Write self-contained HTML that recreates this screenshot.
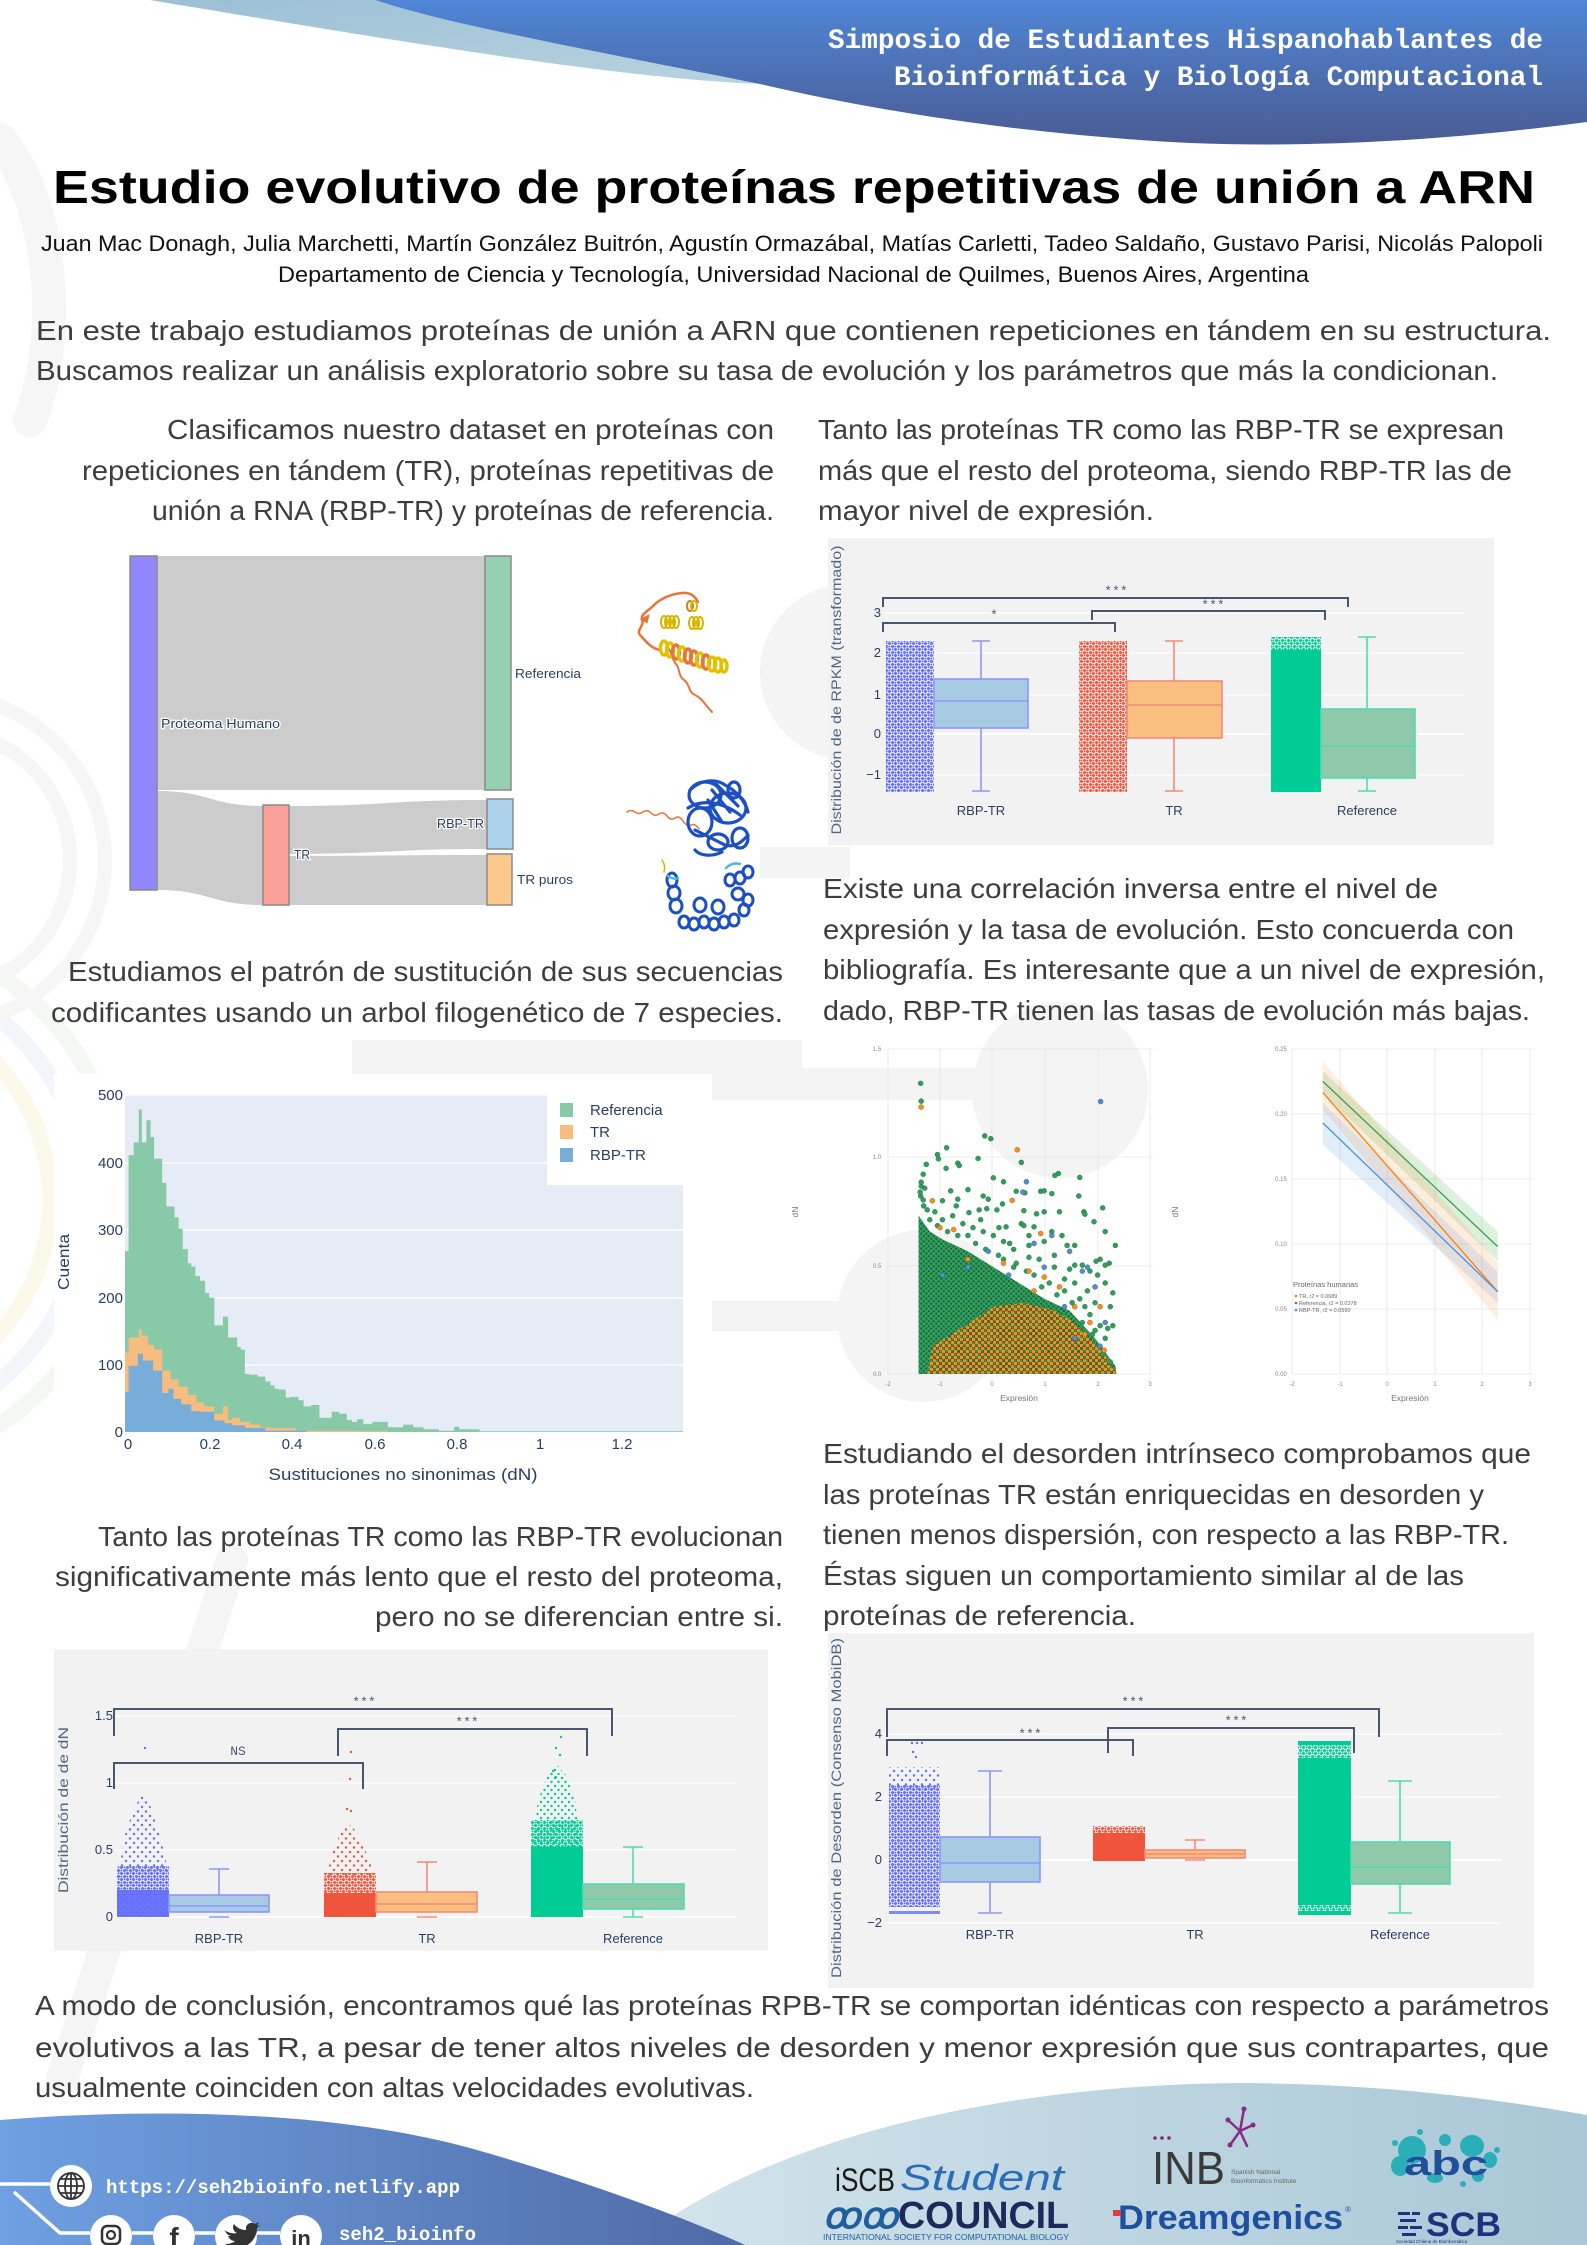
<!DOCTYPE html>
<html><head><meta charset="utf-8"><style>
html,body{margin:0;padding:0;background:#fff;}
svg{display:block;}
.b{font-family:"Liberation Sans",sans-serif;font-size:28px;fill:#3d3d3d;}
.p{font-family:"Liberation Sans",sans-serif;font-size:13px;fill:#2a3f5f;}
.pt{font-family:"Liberation Sans",sans-serif;font-size:14px;fill:#506784;}
.st{font-family:"Liberation Mono",monospace;font-size:13px;fill:#4a5670;}
.tk{font-family:"Liberation Sans",sans-serif;font-size:6px;fill:#888;}
</style></head><body>
<svg width="1587" height="2245" viewBox="0 0 1587 2245" xmlns="http://www.w3.org/2000/svg">
<defs>
<linearGradient id="hdr" x1="0" y1="0" x2="0" y2="1"><stop offset="0" stop-color="#4f86d6"/><stop offset="1" stop-color="#4a5b93"/></linearGradient>
<linearGradient id="hlb" x1="0" y1="0" x2="1" y2="1"><stop offset="0" stop-color="#9cbfd6"/><stop offset="1" stop-color="#b9d3df"/></linearGradient>
<linearGradient id="fb" x1="0" y1="0" x2="1" y2="0"><stop offset="0" stop-color="#6fa0e2"/><stop offset="1" stop-color="#4f6aa6"/></linearGradient>
<linearGradient id="fl" x1="0" y1="0" x2="1" y2="0"><stop offset="0" stop-color="#d3e4ec"/><stop offset="1" stop-color="#a9c7d6"/></linearGradient>
<pattern id="pB" width="6" height="6" patternUnits="userSpaceOnUse"><circle cx="1.5" cy="1.5" r="1.5" fill="#636efa"/><circle cx="4.5" cy="4.5" r="1.5" fill="#636efa"/><circle cx="4.6" cy="1.2" r="1" fill="#636efa"/><circle cx="1.3" cy="4.6" r="1" fill="#636efa"/></pattern>
<pattern id="pR" width="6" height="6" patternUnits="userSpaceOnUse"><circle cx="1.5" cy="1.5" r="1.5" fill="#ef553b"/><circle cx="4.5" cy="4.5" r="1.5" fill="#ef553b"/><circle cx="4.6" cy="1.2" r="1" fill="#ef553b"/><circle cx="1.3" cy="4.6" r="1" fill="#ef553b"/></pattern>
<pattern id="pG" width="6" height="6" patternUnits="userSpaceOnUse"><circle cx="1.5" cy="1.5" r="1.5" fill="#00cc96"/><circle cx="4.5" cy="4.5" r="1.5" fill="#00cc96"/><circle cx="4.6" cy="1.2" r="1" fill="#00cc96"/><circle cx="1.3" cy="4.6" r="1" fill="#00cc96"/></pattern>
<pattern id="pBs" width="8" height="9" patternUnits="userSpaceOnUse"><circle cx="2" cy="2.5" r="1.2" fill="#636efa"/><circle cx="6" cy="7" r="1.2" fill="#636efa"/></pattern>
<pattern id="pRs" width="8" height="9" patternUnits="userSpaceOnUse"><circle cx="2" cy="2.5" r="1.2" fill="#ef553b"/><circle cx="6" cy="7" r="1.2" fill="#ef553b"/></pattern>
<pattern id="pGs" width="7" height="8" patternUnits="userSpaceOnUse"><circle cx="2" cy="2" r="1.2" fill="#00cc96"/><circle cx="5.5" cy="6" r="1.2" fill="#00cc96"/></pattern>
<pattern id="gd" width="5" height="5" patternUnits="userSpaceOnUse"><circle cx="1.25" cy="1.25" r="2.1" fill="#2ea05c" stroke="#173d28" stroke-width="0.5"/><circle cx="3.75" cy="3.75" r="2.1" fill="#2ea05c" stroke="#173d28" stroke-width="0.5"/></pattern>
<pattern id="od" width="6" height="6" patternUnits="userSpaceOnUse"><circle cx="1.5" cy="1.5" r="2.2" fill="#f5901e" stroke="#4a2f0c" stroke-width="0.5"/><circle cx="4.5" cy="4.5" r="2" fill="#f5901e" stroke="#4a2f0c" stroke-width="0.5"/></pattern>
</defs>

<rect width="1587" height="2245" fill="#fff"/>

<!-- faint background decorations -->
<g fill="#f4f4f4">
<circle cx="848" cy="672" r="88"/>
<rect x="760" y="847" width="90" height="31"/>
<circle cx="1060" cy="1090" r="88"/>
<rect x="700" y="1068" width="300" height="32"/>
<rect x="352" y="1040" width="450" height="34"/>
<circle cx="923" cy="1316" r="86"/>
<rect x="700" y="1301" width="150" height="30"/>
</g>
<g fill="none" stroke-linecap="round">
<path d="M232,1560 L62,2080" stroke="#f5f5f5" stroke-width="32"/>
<path d="M0,140 C50,200 65,330 30,420" stroke="#f6f6f6" stroke-width="34"/>
<circle cx="-150" cy="1200" r="200" stroke="#fcf8ea" stroke-width="16"/>
<circle cx="-150" cy="1200" r="235" stroke="#f2f6fb" stroke-width="16"/>
<circle cx="-150" cy="1200" r="270" stroke="#f3f8f2" stroke-width="16"/>
<circle cx="-60" cy="860" r="130" stroke="#f6f6f6" stroke-width="14"/>
<circle cx="-60" cy="860" r="165" stroke="#f6f6f6" stroke-width="14"/>
</g>

<!-- header swoosh -->
<path d="M150,0 L375,0 C450,25 600,52 760,84 C620,78 420,45 150,0 Z" fill="url(#hlb)"/>
<path d="M375,0 L1587,0 L1587,122 C1450,140 1320,148 1190,143 C1030,135 880,112 760,84 C600,52 450,25 375,0 Z" fill="url(#hdr)"/>
<g font-family="'Liberation Mono',monospace" font-weight="bold" font-size="28" fill="#fff" text-anchor="end">
<text x="1543" y="48" textLength="715" lengthAdjust="spacingAndGlyphs">Simposio de Estudiantes Hispanohablantes de</text>
<text x="1543" y="85" textLength="649" lengthAdjust="spacingAndGlyphs">Bioinformática y Biología Computacional</text>
</g>

<!-- title -->
<text x="53" y="203" font-family="'Liberation Sans',sans-serif" font-weight="bold" font-size="46" fill="#000" textLength="1482" lengthAdjust="spacingAndGlyphs">Estudio evolutivo de proteínas repetitivas de unión a ARN</text>
<g font-family="'Liberation Sans',sans-serif" font-size="22" fill="#111">
<text x="41" y="251" textLength="1502" lengthAdjust="spacingAndGlyphs">Juan Mac Donagh, Julia Marchetti, Martín González Buitrón, Agustín Ormazábal, Matías Carletti, Tadeo Saldaño, Gustavo Parisi, Nicolás Palopoli</text>
<text x="278" y="282" textLength="1031" lengthAdjust="spacingAndGlyphs">Departamento de Ciencia y Tecnología, Universidad Nacional de Quilmes, Buenos Aires, Argentina</text>
</g>

<!-- intro -->
<text class="b" x="36" y="340" textLength="1515" lengthAdjust="spacingAndGlyphs">En este trabajo estudiamos proteínas de unión a ARN que  contienen repeticiones en tándem en su estructura.</text>
<text class="b" x="36" y="380" textLength="1462" lengthAdjust="spacingAndGlyphs">Buscamos realizar un análisis exploratorio sobre su tasa de evolución y los parámetros que más la condicionan.</text>

<!-- left paragraphs -->
<g text-anchor="end">
<text class="b" x="774" y="439" textLength="607" lengthAdjust="spacingAndGlyphs">Clasificamos nuestro dataset en proteínas con</text>
<text class="b" x="774" y="480" textLength="692" lengthAdjust="spacingAndGlyphs">repeticiones en tándem (TR), proteínas repetitivas de</text>
<text class="b" x="774" y="520" textLength="622" lengthAdjust="spacingAndGlyphs">unión a RNA (RBP-TR) y proteínas de referencia.</text>
<text class="b" x="783" y="981" textLength="715" lengthAdjust="spacingAndGlyphs">Estudiamos el patrón de sustitución de sus secuencias</text>
<text class="b" x="783" y="1022" textLength="732" lengthAdjust="spacingAndGlyphs">codificantes usando un arbol filogenético de 7 especies.</text>
<text class="b" x="783" y="1546" textLength="685" lengthAdjust="spacingAndGlyphs">Tanto las proteínas TR como las RBP-TR evolucionan</text>
<text class="b" x="783" y="1586" textLength="728" lengthAdjust="spacingAndGlyphs">significativamente más lento que el resto del proteoma,</text>
<text class="b" x="783" y="1626" textLength="408" lengthAdjust="spacingAndGlyphs">pero no se diferencian entre si.</text>
</g>

<!-- right paragraphs -->
<text class="b" x="818" y="439" textLength="686" lengthAdjust="spacingAndGlyphs">Tanto las proteínas TR como las RBP-TR se expresan</text>
<text class="b" x="818" y="480" textLength="694" lengthAdjust="spacingAndGlyphs">más que el resto del proteoma, siendo RBP-TR las de</text>
<text class="b" x="818" y="520" textLength="336" lengthAdjust="spacingAndGlyphs">mayor nivel de expresión.</text>
<text class="b" x="823" y="898" textLength="615" lengthAdjust="spacingAndGlyphs">Existe una  correlación inversa entre el nivel de</text>
<text class="b" x="823" y="939" textLength="691" lengthAdjust="spacingAndGlyphs">expresión y la tasa de evolución. Esto concuerda con</text>
<text class="b" x="823" y="979" textLength="722" lengthAdjust="spacingAndGlyphs">bibliografía. Es interesante que a un nivel de expresión,</text>
<text class="b" x="823" y="1020" textLength="707" lengthAdjust="spacingAndGlyphs">dado, RBP-TR tienen las tasas de evolución más bajas.</text>
<text class="b" x="823" y="1463" textLength="708" lengthAdjust="spacingAndGlyphs">Estudiando el desorden intrínseco comprobamos que</text>
<text class="b" x="823" y="1504" textLength="661" lengthAdjust="spacingAndGlyphs">las proteínas TR están enriquecidas en desorden y</text>
<text class="b" x="823" y="1544" textLength="686" lengthAdjust="spacingAndGlyphs">tienen menos dispersión, con respecto a las RBP-TR.</text>
<text class="b" x="823" y="1585" textLength="641" lengthAdjust="spacingAndGlyphs">Éstas siguen un comportamiento similar al de las</text>
<text class="b" x="823" y="1625" textLength="313" lengthAdjust="spacingAndGlyphs">proteínas de referencia.</text>

<!-- conclusion -->
<text class="b" x="35" y="2015" textLength="1514" lengthAdjust="spacingAndGlyphs">A modo de conclusión, encontramos qué las proteínas RPB-TR se comportan idénticas con respecto a parámetros</text>
<text class="b" x="35" y="2057" textLength="1514" lengthAdjust="spacingAndGlyphs">evolutivos a las TR, a pesar de tener altos niveles de desorden y menor expresión que sus contrapartes, que</text>
<text class="b" x="35" y="2097" textLength="719" lengthAdjust="spacingAndGlyphs">usualmente coinciden con altas velocidades evolutivas.</text>

<!-- SANKEY -->
<g fill="#cccccc">
<path d="M157,556 L485,556 L485,790 L157,790 Z"/>
<path d="M157,791 C210,791 210,806 263,806 L263,905 C210,905 210,890 157,890 Z"/>
<path d="M289,806 C388,806 388,800 487,800 L487,849 C388,849 388,854 289,854 Z"/>
<path d="M289,856 C388,856 388,855 487,855 L487,905 C388,905 388,905 289,905 Z"/>
</g>
<g stroke="#8a8a8a" stroke-width="1.5">
<rect x="130" y="556" width="27" height="334" fill="#8f87fb"/>
<rect x="485" y="556" width="26" height="234" fill="#95d0b2"/>
<rect x="263" y="805" width="26" height="100" fill="#fb9f99"/>
<rect x="487" y="799" width="26" height="50" fill="#abd2ea"/>
<rect x="487" y="854" width="25" height="51" fill="#fdc98a"/>
</g>
<g font-family="'Liberation Sans',sans-serif" font-size="13" fill="#2a3f5f" stroke="#fff" stroke-width="2.5" paint-order="stroke">
<text x="161" y="728" textLength="119" lengthAdjust="spacingAndGlyphs">Proteoma Humano</text>
<text x="515" y="678" textLength="66" lengthAdjust="spacingAndGlyphs">Referencia</text>
<text x="294" y="859" textLength="16" lengthAdjust="spacingAndGlyphs">TR</text>
<text x="484" y="828" text-anchor="end" textLength="47" lengthAdjust="spacingAndGlyphs">RBP-TR</text>
<text x="517" y="884" textLength="56" lengthAdjust="spacingAndGlyphs">TR puros</text>
</g>

<!-- protein structures -->
<g fill="none" stroke-linecap="round">
<path d="M712,712 C705,705 702,698 695,695 C688,692 690,684 684,680 C678,676 680,668 676,664 C672,660 672,652 668,648" stroke="#e8743b" stroke-width="2"/>
<path d="M660,650 C650,648 645,640 640,635 C636,630 645,625 642,620 C640,614 650,610 655,604 C662,598 672,594 682,593 C690,592 695,596 698,602" stroke="#e8743b" stroke-width="2.5"/>
<path d="M641,619 l8,-4 l-2,8 z" fill="#e8743b" stroke="#e8743b" stroke-width="1"/>
<g stroke="#d8b400" stroke-width="2">
<ellipse cx="664" cy="622" rx="3" ry="6"/><ellipse cx="668" cy="622" rx="3" ry="6"/><ellipse cx="672" cy="622" rx="3" ry="6"/><ellipse cx="676" cy="622" rx="3" ry="6"/>
<ellipse cx="692" cy="623" rx="3" ry="6"/><ellipse cx="696" cy="623" rx="3" ry="6"/><ellipse cx="700" cy="623" rx="3" ry="6"/>
<ellipse cx="690" cy="606" rx="3" ry="5" stroke="#c9801f"/><ellipse cx="694" cy="606" rx="3" ry="5"/>
</g>
<g stroke-width="3.5">
<ellipse cx="664" cy="648" rx="3.5" ry="7" stroke="#e3c100"/><ellipse cx="670" cy="650" rx="3.5" ry="7" stroke="#e3c100"/><ellipse cx="676" cy="652" rx="3.5" ry="7" stroke="#e8743b"/><ellipse cx="682" cy="654" rx="3.5" ry="7" stroke="#e3c100"/><ellipse cx="688" cy="656" rx="3.5" ry="7" stroke="#e8743b"/><ellipse cx="694" cy="658" rx="3.5" ry="7" stroke="#e8743b"/><ellipse cx="700" cy="660" rx="3.5" ry="7" stroke="#e3c100"/><ellipse cx="706" cy="662" rx="3.5" ry="7" stroke="#e8743b"/><ellipse cx="712" cy="664" rx="3.5" ry="7" stroke="#e3c100"/><ellipse cx="718" cy="665" rx="3.5" ry="7" stroke="#e3c100"/><ellipse cx="724" cy="666" rx="3" ry="6" stroke="#e3c100"/>
</g>
<path d="M627,812 q4,-3 8,0 t8,0 t8,1 t8,1 t8,2 t8,2 t8,3 t8,4 t8,4" stroke="#e8743b" stroke-width="1.5"/>
<g stroke="#1c50c2" stroke-width="3.2">
<ellipse cx="705" cy="795" rx="16" ry="13"/><ellipse cx="728" cy="808" rx="18" ry="15"/><ellipse cx="700" cy="822" rx="12" ry="14"/>
<path d="M690,790 C700,780 715,778 725,785 C735,790 745,800 748,812"/><path d="M688,808 C700,800 720,800 740,815"/><path d="M695,830 C705,835 715,840 725,845 C735,848 742,842 748,835"/>
<ellipse cx="718" cy="842" rx="10" ry="8"/><ellipse cx="740" cy="838" rx="8" ry="10"/><path d="M708,800 L722,822 M712,790 L730,812 M716,784 L738,806"/>
<path d="M695,850 C700,856 712,857 722,852"/><ellipse cx="734" cy="790" rx="6" ry="8"/>
</g>
<g stroke="#1c50c2" stroke-width="3">
<ellipse cx="672" cy="880" rx="5" ry="7"/><ellipse cx="674" cy="893" rx="6" ry="7"/><ellipse cx="676" cy="906" rx="6" ry="7"/>
<ellipse cx="684" cy="922" rx="5" ry="6"/><ellipse cx="694" cy="924" rx="5" ry="6"/><ellipse cx="704" cy="922" rx="5" ry="6"/><ellipse cx="714" cy="924" rx="5" ry="6"/><ellipse cx="724" cy="922" rx="5" ry="6"/><ellipse cx="734" cy="920" rx="5" ry="6"/>
<ellipse cx="700" cy="905" rx="6" ry="7"/><ellipse cx="718" cy="907" rx="6" ry="7"/>
<ellipse cx="730" cy="880" rx="5" ry="6"/><ellipse cx="740" cy="878" rx="5" ry="6"/><ellipse cx="748" cy="872" rx="5" ry="6"/><ellipse cx="738" cy="894" rx="6" ry="6"/><ellipse cx="748" cy="900" rx="5" ry="6"/><ellipse cx="744" cy="910" rx="5" ry="6"/>
</g>
<path d="M662,860 q4,6 2,12" stroke="#d8b400" stroke-width="1.5"/>
<path d="M668,876 q6,4 10,2" stroke="#4fb6e8" stroke-width="2.5"/>
<path d="M726,868 q6,-6 14,-4" stroke="#4fb6e8" stroke-width="2.5"/>
</g>

<!-- RPKM BOX PLOT -->
<rect x="828" y="538" width="666" height="307" fill="#f2f2f2"/>
<g stroke="#fff" stroke-width="1.2">
<line x1="884" y1="613" x2="1464" y2="613"/><line x1="884" y1="653" x2="1464" y2="653"/><line x1="884" y1="695" x2="1464" y2="695"/><line x1="884" y1="734" x2="1464" y2="734" stroke-width="2"/><line x1="884" y1="775" x2="1464" y2="775"/>
</g>
<g text-anchor="end">
<text class="p" x="881" y="617">3</text><text class="p" x="881" y="657">2</text><text class="p" x="881" y="699">1</text><text class="p" x="881" y="738">0</text><text class="p" x="881" y="779">−1</text>
</g>
<text class="pt" transform="translate(841,690) rotate(-90)" text-anchor="middle" textLength="289" lengthAdjust="spacingAndGlyphs">Distribución de  de RPKM (transformado)</text>
<rect x="886" y="641" width="48" height="151" fill="url(#pB)"/>
<rect x="1079" y="641" width="48" height="151" fill="url(#pR)"/>
<rect x="1271" y="637" width="50" height="16" fill="url(#pG)"/>
<rect x="1271" y="650" width="50" height="142" fill="#00cc96"/>
<g stroke-width="1.6">
<g stroke="#8f96fa"><line x1="981" y1="641" x2="981" y2="679"/><line x1="981" y1="728" x2="981" y2="791"/><line x1="972" y1="641" x2="990" y2="641"/><line x1="972" y1="791" x2="990" y2="791"/><rect x="934" y="679" width="94" height="49" fill="#a6cbe3"/><line x1="934" y1="701" x2="1028" y2="701"/></g>
<g stroke="#f58a77"><line x1="1174" y1="641" x2="1174" y2="681"/><line x1="1174" y1="738" x2="1174" y2="791"/><line x1="1165" y1="641" x2="1183" y2="641"/><line x1="1165" y1="791" x2="1183" y2="791"/><rect x="1127" y="681" width="95" height="57" fill="#f9bf80"/><line x1="1127" y1="705" x2="1222" y2="705"/></g>
<g stroke="#4fdcb0"><line x1="1367" y1="637" x2="1367" y2="709"/><line x1="1367" y1="778" x2="1367" y2="791"/><line x1="1358" y1="637" x2="1376" y2="637"/><line x1="1358" y1="791" x2="1376" y2="791"/><rect x="1321" y="709" width="94" height="69" fill="#8fc9a9"/><line x1="1321" y1="746" x2="1415" y2="746"/></g>
</g>
<g fill="none" stroke="#4a5670" stroke-width="2">
<path d="M883,607 V598 H1348 V607"/><path d="M1092,620 V611 H1325 V620"/><path d="M883,632 V623 H1115 V632"/>
</g>
<g text-anchor="middle"><text class="st" x="1116" y="595">***</text><text class="st" x="1213" y="609">***</text><text class="st" x="994" y="619">*</text></g>
<g text-anchor="middle"><text class="p" x="981" y="815">RBP-TR</text><text class="p" x="1174" y="815">TR</text><text class="p" x="1367" y="815">Reference</text></g>

<!-- HISTOGRAM -->
<rect x="54" y="1074" width="658" height="414" fill="#fff"/>
<rect x="125" y="1094" width="558" height="338" fill="#e5ecf6"/>
<g stroke="#fff" stroke-width="1.2">
<line x1="125" y1="1095" x2="683" y2="1095"/><line x1="125" y1="1163" x2="683" y2="1163"/><line x1="125" y1="1230" x2="683" y2="1230"/><line x1="125" y1="1298" x2="683" y2="1298"/><line x1="125" y1="1365" x2="683" y2="1365"/>
</g>
<path fill="#88c9a7" d="M125,1432 V1251.1 H128.6 V1155.3 H133.7 V1142.4 H138.8 V1109.4 H141.8 V1142.4 H146.4 V1120.2 H150.5 V1137 H154.1 V1158.6 H162.2 V1182.9 H166.3 V1206.5 H174.5 V1217.4 H178.6 V1228.8 H182.7 V1249.1 H187.8 V1263.3 H191.3 V1266.6 H195.4 V1276.1 H200 V1280.8 H205.1 V1292.9 H209.2 V1297.7 H214.3 V1325.4 H223 V1316.6 H228.1 V1337.5 H237.2 V1347 H240.8 V1349.6 H244.9 V1373.9 H249 V1374.6 H257.7 V1376.6 H265.3 V1381.4 H270.4 V1385.4 H274.5 V1388.8 H278.1 V1389.5 H285.7 V1397.6 H289.8 V1396.9 H298.5 V1400.3 H303.6 V1406.4 H311.2 V1405 H319.4 V1417.8 H331.6 V1411.8 H339.3 V1413.8 H346.9 V1419.9 H352 V1421.9 H357.1 V1419.2 H363.3 V1423.9 H372.4 V1421.9 H387.8 V1427.3 H403.1 V1424.6 H413.3 V1427.3 H423.5 V1429.3 H438.8 V1430.7 H454.1 V1426.6 H459.2 V1429.3 H479.6 V1431.3 H683 V1432 Z"/>
<path fill="#f6bd7f" d="M125,1432 V1352.4 H128.6 V1337.5 H138.8 V1329.4 H141.8 V1335.5 H148 V1344.9 H154.1 V1349.6 H162.2 V1370.6 H170.9 V1379.4 H178.6 V1386.8 H187.8 V1394.9 H196.4 V1402.3 H204.1 V1406.4 H214.3 V1413.8 H223 V1406.4 H228.1 V1419.9 H232.1 V1417.8 H239.8 V1421.9 H250 V1424.6 H260.2 V1427.3 H270.4 V1428 H295.9 V1430.7 H357.1 V1431.3 H387.8 V1432 Z"/>
<path fill="#78acd9" d="M125,1432 V1392.2 H128.6 V1365.9 H137.8 V1353.7 H142.9 V1360.5 H153.1 V1370.6 H162.2 V1392.9 H168.4 V1388.8 H173.5 V1398.9 H181.1 V1404.3 H191.3 V1411.1 H199 V1411.8 H214.3 V1420.5 H224.5 V1423.2 H232.1 V1425.3 H244.9 V1428 H265.3 V1430.7 H306.1 V1432 Z"/>
<g font-family="'Liberation Sans',sans-serif" font-size="15" fill="#2a3f5f">
<g text-anchor="end"><text x="123" y="1100">500</text><text x="123" y="1168">400</text><text x="123" y="1235">300</text><text x="123" y="1303">200</text><text x="123" y="1370">100</text><text x="123" y="1437">0</text></g>
<g text-anchor="middle"><text x="128" y="1449">0</text><text x="210" y="1449">0.2</text><text x="292" y="1449">0.4</text><text x="375" y="1449">0.6</text><text x="457" y="1449">0.8</text><text x="540" y="1449">1</text><text x="622" y="1449">1.2</text></g>
<text x="403" y="1480" text-anchor="middle" font-size="17" textLength="269" lengthAdjust="spacingAndGlyphs">Sustituciones no sinonimas (dN)</text>
<text transform="translate(69,1262) rotate(-90)" text-anchor="middle" font-size="16" textLength="56" lengthAdjust="spacingAndGlyphs">Cuenta</text>
</g>
<rect x="547" y="1094" width="136" height="91" fill="#fff"/>
<rect x="560" y="1103" width="13" height="14" fill="#88c9a7"/>
<rect x="560" y="1125" width="13" height="14" fill="#f6bd7f"/>
<rect x="560" y="1148" width="13" height="14" fill="#78acd9"/>
<g font-family="'Liberation Sans',sans-serif" font-size="15" fill="#2a3f5f"><text x="590" y="1115">Referencia</text><text x="590" y="1137">TR</text><text x="590" y="1160">RBP-TR</text></g>

<!-- SCATTER charts -->
<g stroke="#e6e6e6" stroke-width="0.8">
<line x1="888" y1="1049" x2="1153" y2="1049"/><line x1="888" y1="1157" x2="1153" y2="1157"/><line x1="888" y1="1266" x2="1153" y2="1266"/><line x1="888" y1="1374" x2="1153" y2="1374"/>
<line x1="888" y1="1049" x2="888" y2="1374"/><line x1="940" y1="1049" x2="940" y2="1374"/><line x1="992" y1="1049" x2="992" y2="1374"/><line x1="1045" y1="1049" x2="1045" y2="1374"/><line x1="1098" y1="1049" x2="1098" y2="1374"/><line x1="1150" y1="1049" x2="1150" y2="1374"/>
<line x1="1292" y1="1049" x2="1533" y2="1049"/><line x1="1292" y1="1114" x2="1533" y2="1114"/><line x1="1292" y1="1179" x2="1533" y2="1179"/><line x1="1292" y1="1244" x2="1533" y2="1244"/><line x1="1292" y1="1309" x2="1533" y2="1309"/><line x1="1292" y1="1374" x2="1533" y2="1374"/>
<line x1="1292" y1="1049" x2="1292" y2="1374"/><line x1="1340" y1="1049" x2="1340" y2="1374"/><line x1="1387" y1="1049" x2="1387" y2="1374"/><line x1="1435" y1="1049" x2="1435" y2="1374"/><line x1="1482" y1="1049" x2="1482" y2="1374"/><line x1="1530" y1="1049" x2="1530" y2="1374"/>
</g>
<polygon points="918.6,1373.9 918.6,1215.8 929.8,1231.6 942.5,1239.5 967.9,1251.4 993.4,1267.2 1018.8,1283 1044.2,1298.8 1069.6,1310.7 1095,1338.3 1115.4,1366 1116.4,1373.9" fill="#2a8a52"/>
<polygon points="918.6,1373.9 918.6,1215.8 929.8,1231.6 942.5,1239.5 967.9,1251.4 993.4,1267.2 1018.8,1283 1044.2,1298.8 1069.6,1310.7 1095,1338.3 1115.4,1366 1116.4,1373.9" fill="url(#gd)"/>
<polygon points="932.4,1346.2 957.8,1330.4 993.4,1306.7 1023.9,1302.8 1054.4,1310.7 1074.7,1322.5 1095,1342.3 1115.4,1370 1115.4,1373.9 927.3,1373.9" fill="url(#od)"/>
<g transform="translate(790,1030) scale(0.5084,0.3953)">
<g fill="#2ea05c" stroke="#1a3522" stroke-width="0.6">
<ellipse cx="257" cy="135" rx="5" ry="6.4"/><ellipse cx="258" cy="180" rx="5" ry="6.4"/><ellipse cx="383" cy="268" rx="5" ry="6.4"/><ellipse cx="395" cy="275" rx="5" ry="6.4"/><ellipse cx="308" cy="298" rx="5" ry="6.4"/><ellipse cx="290" cy="315" rx="5" ry="6.4"/><ellipse cx="292" cy="326" rx="5" ry="6.4"/><ellipse cx="268" cy="340" rx="5" ry="6.4"/><ellipse cx="262" cy="365" rx="5" ry="6.4"/><ellipse cx="307" cy="350" rx="5" ry="6.4"/><ellipse cx="330" cy="337" rx="5" ry="6.4"/><ellipse cx="333" cy="343" rx="5" ry="6.4"/><ellipse cx="370" cy="325" rx="5" ry="6.4"/><ellipse cx="455" cy="335" rx="5" ry="6.4"/><ellipse cx="521" cy="368" rx="5" ry="6.4"/><ellipse cx="528" cy="363" rx="5" ry="6.4"/><ellipse cx="570" cy="373" rx="5" ry="6.4"/><ellipse cx="400" cy="374" rx="5" ry="6.4"/><ellipse cx="420" cy="384" rx="5" ry="6.4"/><ellipse cx="445" cy="408" rx="5" ry="6.4"/><ellipse cx="462" cy="412" rx="5" ry="6.4"/><ellipse cx="493" cy="408" rx="5" ry="6.4"/><ellipse cx="500" cy="407" rx="5" ry="6.4"/><ellipse cx="515" cy="414" rx="5" ry="6.4"/><ellipse cx="350" cy="404" rx="5" ry="6.4"/><ellipse cx="316" cy="407" rx="5" ry="6.4"/><ellipse cx="300" cy="432" rx="5" ry="6.4"/><ellipse cx="265" cy="400" rx="5" ry="6.4"/><ellipse cx="258" cy="395" rx="5" ry="6.4"/><ellipse cx="257" cy="420" rx="5" ry="6.4"/><ellipse cx="263" cy="445" rx="5" ry="6.4"/><ellipse cx="418" cy="440" rx="5" ry="6.4"/><ellipse cx="407" cy="455" rx="5" ry="6.4"/><ellipse cx="387" cy="452" rx="5" ry="6.4"/><ellipse cx="372" cy="455" rx="5" ry="6.4"/><ellipse cx="352" cy="462" rx="5" ry="6.4"/><ellipse cx="327" cy="445" rx="5" ry="6.4"/><ellipse cx="330" cy="428" rx="5" ry="6.4"/><ellipse cx="380" cy="420" rx="5" ry="6.4"/><ellipse cx="390" cy="428" rx="5" ry="6.4"/><ellipse cx="460" cy="457" rx="5" ry="6.4"/><ellipse cx="485" cy="465" rx="5" ry="6.4"/><ellipse cx="500" cy="460" rx="5" ry="6.4"/><ellipse cx="530" cy="460" rx="5" ry="6.4"/><ellipse cx="568" cy="420" rx="5" ry="6.4"/><ellipse cx="578" cy="460" rx="5" ry="6.4"/><ellipse cx="580" cy="466" rx="5" ry="6.4"/><ellipse cx="615" cy="450" rx="5" ry="6.4"/><ellipse cx="620" cy="510" rx="5" ry="6.4"/><ellipse cx="640" cy="545" rx="5" ry="6.4"/><ellipse cx="598" cy="485" rx="5" ry="6.4"/><ellipse cx="635" cy="665" rx="5" ry="6.4"/><ellipse cx="628" cy="590" rx="5" ry="6.4"/><ellipse cx="610" cy="580" rx="5" ry="6.4"/><ellipse cx="602" cy="585" rx="5" ry="6.4"/><ellipse cx="560" cy="545" rx="5" ry="6.4"/><ellipse cx="545" cy="545" rx="5" ry="6.4"/><ellipse cx="535" cy="520" rx="5" ry="6.4"/><ellipse cx="515" cy="510" rx="5" ry="6.4"/><ellipse cx="470" cy="520" rx="5" ry="6.4"/><ellipse cx="440" cy="555" rx="5" ry="6.4"/><ellipse cx="432" cy="540" rx="5" ry="6.4"/><ellipse cx="420" cy="535" rx="5" ry="6.4"/><ellipse cx="411" cy="500" rx="5" ry="6.4"/><ellipse cx="425" cy="498" rx="5" ry="6.4"/><ellipse cx="455" cy="490" rx="5" ry="6.4"/><ellipse cx="460" cy="495" rx="5" ry="6.4"/><ellipse cx="480" cy="498" rx="5" ry="6.4"/><ellipse cx="500" cy="535" rx="5" ry="6.4"/><ellipse cx="470" cy="545" rx="5" ry="6.4"/><ellipse cx="550" cy="605" rx="5" ry="6.4"/><ellipse cx="575" cy="595" rx="5" ry="6.4"/><ellipse cx="590" cy="610" rx="5" ry="6.4"/><ellipse cx="605" cy="620" rx="5" ry="6.4"/><ellipse cx="620" cy="640" rx="5" ry="6.4"/><ellipse cx="630" cy="700" rx="5" ry="6.4"/><ellipse cx="600" cy="690" rx="5" ry="6.4"/><ellipse cx="610" cy="748" rx="5" ry="6.4"/><ellipse cx="625" cy="755" rx="5" ry="6.4"/><ellipse cx="635" cy="748" rx="5" ry="6.4"/><ellipse cx="560" cy="640" rx="5" ry="6.4"/><ellipse cx="540" cy="630" rx="5" ry="6.4"/><ellipse cx="520" cy="600" rx="5" ry="6.4"/><ellipse cx="490" cy="580" rx="5" ry="6.4"/><ellipse cx="470" cy="575" rx="5" ry="6.4"/><ellipse cx="560" cy="595" rx="5" ry="6.4"/><ellipse cx="520" cy="570" rx="5" ry="6.4"/><ellipse cx="585" cy="660" rx="5" ry="6.4"/><ellipse cx="620" cy="595" rx="5" ry="6.4"/><ellipse cx="258" cy="385" rx="5" ry="6.4"/><ellipse cx="256" cy="410" rx="5" ry="6.4"/><ellipse cx="262" cy="430" rx="5" ry="6.4"/><ellipse cx="270" cy="455" rx="5" ry="6.4"/><ellipse cx="285" cy="460" rx="5" ry="6.4"/><ellipse cx="300" cy="480" rx="5" ry="6.4"/><ellipse cx="320" cy="470" rx="5" ry="6.4"/><ellipse cx="340" cy="490" rx="5" ry="6.4"/><ellipse cx="360" cy="500" rx="5" ry="6.4"/><ellipse cx="380" cy="510" rx="5" ry="6.4"/><ellipse cx="400" cy="520" rx="5" ry="6.4"/><ellipse cx="375" cy="480" rx="5" ry="6.4"/><ellipse cx="350" cy="520" rx="5" ry="6.4"/><ellipse cx="420" cy="580" rx="5" ry="6.4"/><ellipse cx="440" cy="600" rx="5" ry="6.4"/><ellipse cx="480" cy="620" rx="5" ry="6.4"/><ellipse cx="510" cy="640" rx="5" ry="6.4"/><ellipse cx="540" cy="660" rx="5" ry="6.4"/><ellipse cx="570" cy="680" rx="5" ry="6.4"/><ellipse cx="590" cy="720" rx="5" ry="6.4"/><ellipse cx="620" cy="780" rx="5" ry="6.4"/><ellipse cx="600" cy="760" rx="5" ry="6.4"/><ellipse cx="580" cy="700" rx="5" ry="6.4"/>
<ellipse cx="275" cy="480" rx="5" ry="6.4"/><ellipse cx="290" cy="495" rx="5" ry="6.4"/><ellipse cx="310" cy="510" rx="5" ry="6.4"/><ellipse cx="330" cy="520" rx="5" ry="6.4"/><ellipse cx="365" cy="540" rx="5" ry="6.4"/><ellipse cx="385" cy="555" rx="5" ry="6.4"/><ellipse cx="410" cy="570" rx="5" ry="6.4"/><ellipse cx="445" cy="590" rx="5" ry="6.4"/><ellipse cx="465" cy="610" rx="5" ry="6.4"/><ellipse cx="495" cy="650" rx="5" ry="6.4"/><ellipse cx="525" cy="670" rx="5" ry="6.4"/><ellipse cx="555" cy="690" rx="5" ry="6.4"/><ellipse cx="575" cy="740" rx="5" ry="6.4"/><ellipse cx="595" cy="770" rx="5" ry="6.4"/><ellipse cx="615" cy="820" rx="5" ry="6.4"/><ellipse cx="630" cy="840" rx="5" ry="6.4"/>
</g>
<g fill="#f5901e" stroke="#4a2f0c" stroke-width="0.6">
<ellipse cx="258" cy="195" rx="5" ry="6.4"/><ellipse cx="447" cy="303" rx="5" ry="6.4"/><ellipse cx="437" cy="431" rx="5" ry="6.4"/><ellipse cx="493" cy="515" rx="5" ry="6.4"/><ellipse cx="280" cy="432" rx="5" ry="6.4"/><ellipse cx="295" cy="500" rx="5" ry="6.4"/><ellipse cx="322" cy="505" rx="5" ry="6.4"/><ellipse cx="350" cy="580" rx="5" ry="6.4"/><ellipse cx="420" cy="590" rx="5" ry="6.4"/><ellipse cx="470" cy="610" rx="5" ry="6.4"/><ellipse cx="500" cy="625" rx="5" ry="6.4"/><ellipse cx="480" cy="660" rx="5" ry="6.4"/><ellipse cx="530" cy="650" rx="5" ry="6.4"/><ellipse cx="560" cy="700" rx="5" ry="6.4"/><ellipse cx="590" cy="740" rx="5" ry="6.4"/><ellipse cx="610" cy="700" rx="5" ry="6.4"/><ellipse cx="618" cy="810" rx="5" ry="6.4"/><ellipse cx="580" cy="770" rx="5" ry="6.4"/>
</g>
<g fill="#4e8fd0" stroke="#1a2a44" stroke-width="0.6">
<ellipse cx="611" cy="181" rx="5" ry="6.4"/><ellipse cx="465" cy="384" rx="5" ry="6.4"/><ellipse cx="458" cy="410" rx="5" ry="6.4"/><ellipse cx="480" cy="540" rx="5" ry="6.4"/><ellipse cx="515" cy="520" rx="5" ry="6.4"/><ellipse cx="550" cy="560" rx="5" ry="6.4"/><ellipse cx="575" cy="610" rx="5" ry="6.4"/><ellipse cx="600" cy="650" rx="5" ry="6.4"/><ellipse cx="585" cy="600" rx="5" ry="6.4"/><ellipse cx="430" cy="620" rx="5" ry="6.4"/><ellipse cx="500" cy="600" rx="5" ry="6.4"/><ellipse cx="540" cy="700" rx="5" ry="6.4"/><ellipse cx="620" cy="740" rx="5" ry="6.4"/><ellipse cx="390" cy="560" rx="5" ry="6.4"/><ellipse cx="350" cy="600" rx="5" ry="6.4"/><ellipse cx="300" cy="620" rx="5" ry="6.4"/><ellipse cx="610" cy="800" rx="5" ry="6.4"/><ellipse cx="560" cy="780" rx="5" ry="6.4"/>
</g>
<polygon points="1048,105 1392,510 1392,585 1048,160" fill="#2ca02c" fill-opacity="0.16"/>
<polygon points="1048,80 1392,590 1392,732 1048,200" fill="#ff7f0e" fill-opacity="0.14"/>
<polygon points="1048,185 1392,612 1392,690 1048,290" fill="#4a90e2" fill-opacity="0.16"/>
<line x1="1048" y1="130" x2="1392" y2="548" stroke="#3a9f55" stroke-width="1.3" vector-effect="non-scaling-stroke"/>
<line x1="1048" y1="158" x2="1392" y2="662" stroke="#ff7f0e" stroke-width="1.3" vector-effect="non-scaling-stroke"/>
<line x1="1048" y1="235" x2="1392" y2="662" stroke="#4a90e2" stroke-width="1.3" vector-effect="non-scaling-stroke"/>
</g>
<g text-anchor="middle">
<text class="tk" x="877" y="1051">1.5</text><text class="tk" x="877" y="1159">1.0</text><text class="tk" x="877" y="1268">0.5</text><text class="tk" x="877" y="1376">0.0</text>
<text class="tk" x="888" y="1386">-2</text><text class="tk" x="940" y="1386">-1</text><text class="tk" x="992" y="1386">0</text><text class="tk" x="1045" y="1386">1</text><text class="tk" x="1098" y="1386">2</text><text class="tk" x="1150" y="1386">3</text>
<text class="tk" x="1281" y="1051">0.25</text><text class="tk" x="1281" y="1116">0.20</text><text class="tk" x="1281" y="1181">0.15</text><text class="tk" x="1281" y="1246">0.10</text><text class="tk" x="1281" y="1311">0.05</text><text class="tk" x="1281" y="1376">0.00</text>
<text class="tk" x="1292" y="1386">-2</text><text class="tk" x="1340" y="1386">-1</text><text class="tk" x="1387" y="1386">0</text><text class="tk" x="1435" y="1386">1</text><text class="tk" x="1482" y="1386">2</text><text class="tk" x="1530" y="1386">3</text>
</g>
<g font-family="'Liberation Sans',sans-serif" font-size="8.5" fill="#777" text-anchor="middle">
<text x="1019" y="1401">Expresión</text><text x="1410" y="1401">Expresión</text>
<text transform="translate(798,1212) rotate(-90)">dN</text><text transform="translate(1178,1212) rotate(-90)">dN</text>
</g>
<g font-family="'Liberation Sans',sans-serif" fill="#666">
<text x="1293" y="1287" font-size="7.5">Proteínas humanas</text>
<circle cx="1296" cy="1296" r="1.3" fill="#ff7f0e"/><circle cx="1296" cy="1303" r="1.3" fill="#2ca02c"/><circle cx="1296" cy="1310" r="1.3" fill="#4a90e2"/>
<text x="1299" y="1298" font-size="5.5">TR, r2 = 0.0689</text>
<text x="1299" y="1305" font-size="5.5">Referencia, r2 = 0.0378</text>
<text x="1299" y="1312" font-size="5.5">RBP-TR, r2 = 0.0590</text>
</g>

<!-- dN BOX PLOT -->
<rect x="54" y="1649" width="714" height="302" fill="#f2f2f2"/>
<g stroke="#fff" stroke-width="1.2">
<line x1="115" y1="1716" x2="736" y2="1716"/><line x1="115" y1="1783" x2="736" y2="1783"/><line x1="115" y1="1850" x2="736" y2="1850"/><line x1="115" y1="1917" x2="736" y2="1917" stroke-width="2"/>
</g>
<g text-anchor="end"><text class="p" x="113" y="1720">1.5</text><text class="p" x="113" y="1787">1</text><text class="p" x="113" y="1854">0.5</text><text class="p" x="113" y="1921">0</text></g>
<text class="pt" transform="translate(68,1810) rotate(-90)" text-anchor="middle" textLength="166" lengthAdjust="spacingAndGlyphs">Distribución de  de dN</text>
<polygon points="119,1870 126,1830 136,1805 143,1793 150,1805 160,1835 168,1870" fill="url(#pBs)"/>
<rect x="117" y="1866" width="52" height="26" fill="url(#pB)"/>
<rect x="117" y="1890" width="52" height="27" fill="#6f78fa"/>
<rect x="117" y="1890" width="52" height="27" fill="url(#pB)"/>
<circle cx="145" cy="1748" r="1.2" fill="#636efa"/>
<polygon points="326,1878 333,1850 343,1828 352,1825 360,1840 370,1860 375,1878" fill="url(#pRs)"/>
<rect x="324" y="1873" width="52" height="22" fill="url(#pR)"/>
<rect x="324" y="1893" width="52" height="24" fill="#ef553b"/>
<g fill="#ef553b"><circle cx="351" cy="1752" r="1.2"/><circle cx="350" cy="1779" r="1.2"/><circle cx="347" cy="1809" r="1.2"/><circle cx="351" cy="1811" r="1.2"/></g>
<polygon points="533,1848 538,1800 548,1775 557,1765 566,1775 575,1800 581,1848" fill="url(#pGs)"/>
<rect x="531" y="1820" width="52" height="29" fill="url(#pG)"/>
<rect x="531" y="1847" width="52" height="70" fill="#00cc96"/>
<g fill="#00cc96"><circle cx="561" cy="1737" r="1.2"/><circle cx="556" cy="1748" r="1.2"/><circle cx="560" cy="1755" r="1.2"/><circle cx="553" cy="1771" r="1.2"/><circle cx="556" cy="1777" r="1.2"/></g>
<g stroke-width="1.6">
<g stroke="#8f96fa"><line x1="219" y1="1869" x2="219" y2="1895"/><line x1="209" y1="1869" x2="229" y2="1869"/><line x1="209" y1="1917" x2="229" y2="1917"/><rect x="169" y="1895" width="100" height="17" fill="#a6cbe3"/><line x1="169" y1="1906" x2="269" y2="1906"/></g>
<g stroke="#f58a77"><line x1="427" y1="1862" x2="427" y2="1892"/><line x1="417" y1="1862" x2="437" y2="1862"/><line x1="417" y1="1917" x2="437" y2="1917"/><rect x="376" y="1892" width="101" height="20" fill="#f9bf80"/><line x1="376" y1="1904" x2="477" y2="1904"/></g>
<g stroke="#4fdcb0"><line x1="633" y1="1847" x2="633" y2="1884"/><line x1="633" y1="1909" x2="633" y2="1917"/><line x1="623" y1="1847" x2="643" y2="1847"/><line x1="623" y1="1917" x2="643" y2="1917"/><rect x="583" y="1884" width="101" height="25" fill="#8fc9a9"/><line x1="583" y1="1899" x2="684" y2="1899"/></g>
</g>
<g fill="none" stroke="#4a5670" stroke-width="2">
<path d="M114,1736 V1709 H612 V1736"/><path d="M338,1756 V1729 H587 V1756"/><path d="M114,1789 V1763 H363 V1789"/>
</g>
<g text-anchor="middle"><text class="st" x="364" y="1706">***</text><text class="st" x="467" y="1726">***</text><text class="st" x="238" y="1755">NS</text></g>
<g text-anchor="middle"><text class="p" x="219" y="1943" font-size="14">RBP-TR</text><text class="p" x="427" y="1943" font-size="14">TR</text><text class="p" x="633" y="1943" font-size="14">Reference</text></g>

<!-- DISORDER BOX PLOT -->
<rect x="828" y="1633" width="706" height="355" fill="#f2f2f2"/>
<g stroke="#fff" stroke-width="1.2">
<line x1="884" y1="1734" x2="1502" y2="1734"/><line x1="884" y1="1797" x2="1502" y2="1797"/><line x1="884" y1="1860" x2="1502" y2="1860" stroke-width="2"/><line x1="884" y1="1923" x2="1502" y2="1923"/>
</g>
<g text-anchor="end"><text class="p" x="882" y="1738" font-size="14">4</text><text class="p" x="882" y="1801" font-size="14">2</text><text class="p" x="882" y="1864" font-size="14">0</text><text class="p" x="882" y="1927" font-size="14">−2</text></g>
<text class="pt" transform="translate(841,1808) rotate(-90)" text-anchor="middle" textLength="340" lengthAdjust="spacingAndGlyphs">Distribución de Desorden (Consenso MobiDB)</text>
<rect x="889" y="1767" width="51" height="22" fill="url(#pBs)"/>
<rect x="889" y="1785" width="51" height="122" fill="url(#pB)"/>
<rect x="889" y="1911" width="51" height="3" fill="#636efa" fill-opacity="0.8"/>
<g fill="#636efa"><circle cx="912" cy="1743" r="1.2"/><circle cx="917" cy="1743" r="1.2"/><circle cx="922" cy="1743" r="1.2"/><circle cx="913" cy="1752" r="1.2"/><circle cx="916" cy="1757" r="1.2"/></g>
<rect x="1093" y="1826" width="52" height="9" fill="url(#pR)"/>
<rect x="1093" y="1833" width="52" height="28" fill="#ef553b"/>
<rect x="1298" y="1741" width="53" height="4" fill="#00cc96"/>
<rect x="1298" y="1745" width="53" height="16" fill="url(#pG)"/>
<rect x="1298" y="1758" width="53" height="147" fill="#00cc96"/>
<rect x="1298" y="1903" width="53" height="8" fill="url(#pG)"/>
<rect x="1298" y="1911" width="53" height="4" fill="#00cc96"/>
<g stroke-width="1.6">
<g stroke="#8f96fa"><line x1="990" y1="1771" x2="990" y2="1837"/><line x1="990" y1="1882" x2="990" y2="1913"/><line x1="978" y1="1771" x2="1002" y2="1771"/><line x1="978" y1="1913" x2="1002" y2="1913"/><rect x="940" y="1837" width="100" height="45" fill="#a6cbe3"/><line x1="940" y1="1863" x2="1040" y2="1863"/></g>
<g stroke="#f58a77"><line x1="1195" y1="1840" x2="1195" y2="1850"/><line x1="1185" y1="1840" x2="1205" y2="1840"/><line x1="1185" y1="1860" x2="1205" y2="1860"/><rect x="1145" y="1850" width="100" height="8" fill="#f9bf80"/><line x1="1145" y1="1854" x2="1245" y2="1854"/></g>
<g stroke="#4fdcb0"><line x1="1400" y1="1781" x2="1400" y2="1842"/><line x1="1400" y1="1884" x2="1400" y2="1913"/><line x1="1388" y1="1781" x2="1412" y2="1781"/><line x1="1388" y1="1913" x2="1412" y2="1913"/><rect x="1351" y="1842" width="99" height="42" fill="#8fc9a9"/><line x1="1351" y1="1867" x2="1450" y2="1867"/></g>
</g>
<g fill="none" stroke="#4a5670" stroke-width="2">
<path d="M887,1737 V1709 H1379 V1737"/><path d="M1108,1753 V1728 H1354 V1753"/><path d="M887,1756 V1740 H1133 V1756"/>
</g>
<g text-anchor="middle"><text class="st" x="1133" y="1706">***</text><text class="st" x="1236" y="1725">***</text><text class="st" x="1030" y="1738">***</text></g>
<g text-anchor="middle"><text class="p" x="990" y="1939" font-size="14">RBP-TR</text><text class="p" x="1195" y="1939" font-size="14">TR</text><text class="p" x="1400" y="1939" font-size="14">Reference</text></g>

<!-- FOOTER -->
<path d="M633,2245 C760,2140 1000,2083 1250,2083 C1400,2085 1500,2100 1587,2115 L1587,2245 Z" fill="url(#fl)"/>
<path d="M0,2120 C150,2108 330,2110 470,2148 C590,2182 690,2220 745,2245 L0,2245 Z" fill="url(#fb)"/>
<g stroke="#fff" stroke-width="3.5" fill="none">
<path d="M0,2184 H50"/><path d="M14,2192 L60,2233 H90"/><path d="M132,2233 H153"/><path d="M195,2233 H215"/><path d="M257,2233 H280"/>
</g>
<g fill="#fff"><circle cx="71" cy="2186" r="21"/><circle cx="111" cy="2236" r="21"/><circle cx="174" cy="2236" r="21"/><circle cx="236" cy="2236" r="21"/><circle cx="301" cy="2236" r="21"/></g>
<g fill="none" stroke="#333" stroke-width="1.8">
<circle cx="71" cy="2186" r="13"/><ellipse cx="71" cy="2186" rx="6" ry="13"/><line x1="58" y1="2186" x2="84" y2="2186"/><line x1="60" y1="2179" x2="82" y2="2179"/><line x1="60" y1="2193" x2="82" y2="2193"/><line x1="71" y1="2173" x2="71" y2="2199"/>
<rect x="102" y="2226" width="18" height="18" rx="5" stroke-width="2.5"/><circle cx="111" cy="2235" r="4" stroke-width="2.2"/>
</g>
<text x="174" y="2247" text-anchor="middle" font-family="'Liberation Sans',sans-serif" font-weight="bold" font-size="28" fill="#333">f</text>
<path d="M224,2230 c5,3 9,4 13,3 c-4,-2 -5,-6 -3,-9 c3,4 7,6 12,6 c-1,-6 5,-9 9,-6 l4,-2 l-2,4 l3,-1 l-3,3 c0,10 -8,20 -20,20 c-5,0 -9,-2 -12,-4 c4,0 8,-1 10,-3 c-4,0 -6,-3 -7,-5 l3,0 c-4,-1 -6,-4 -6,-6 z" fill="#333"/>
<text x="301" y="2246" text-anchor="middle" font-family="'Liberation Sans',sans-serif" font-weight="bold" font-size="22" fill="#333">in</text>
<g font-family="'Liberation Mono',monospace" font-weight="bold" fill="#fff" font-size="19">
<text x="106" y="2193" textLength="354" lengthAdjust="spacingAndGlyphs">https://seh2bioinfo.netlify.app</text>
<text x="339" y="2240" textLength="137" lengthAdjust="spacingAndGlyphs">seh2_bioinfo</text>
</g>

<!-- logos -->
<g font-family="'Liberation Sans',sans-serif">
<text x="835" y="2191" font-size="32" fill="#1a1a1a" textLength="60" lengthAdjust="spacingAndGlyphs">iSCB</text>
<text x="900" y="2190" font-size="36" font-style="italic" fill="#2a6db5" textLength="164" lengthAdjust="spacingAndGlyphs">Student</text>
<text x="823" y="2228" font-size="36" font-style="italic" font-weight="bold" fill="#1f5fa0" textLength="75" lengthAdjust="spacingAndGlyphs">ꝏꝏ</text>
<text x="898" y="2228" font-size="38" font-weight="bold" fill="#1a2a5a" textLength="171" lengthAdjust="spacingAndGlyphs">COUNCIL</text>
<text x="823" y="2240" font-size="8" fill="#1f5fa0" textLength="246" lengthAdjust="spacingAndGlyphs">INTERNATIONAL SOCIETY FOR COMPUTATIONAL BIOLOGY</text>
<text x="1152" y="2184" font-size="46" fill="#3a3a3a" textLength="73" lengthAdjust="spacingAndGlyphs">INB</text>
<text x="1231" y="2174" font-size="6.5" fill="#666">Spanish National</text>
<text x="1231" y="2183" font-size="6.5" fill="#666">Bioinformatics Institute</text>
<text x="1118" y="2229" font-size="34" font-weight="bold" fill="#1d50a2" textLength="225" lengthAdjust="spacingAndGlyphs">Dreamgenics</text>
<text x="1345" y="2212" font-size="8" fill="#1d50a2">®</text>
<text x="1426" y="2236" font-size="34" font-weight="bold" fill="#22307e" textLength="75" lengthAdjust="spacingAndGlyphs">SCB</text>
<text x="1396" y="2243" font-size="4.5" fill="#22307e">Sociedad Chilena de Bioinformática</text>
</g>
<rect x="1113" y="2210" width="8" height="6" fill="#e53a3a"/>
<g fill="#7b2a7a"><circle cx="1155" cy="2138" r="1.8"/><circle cx="1162" cy="2138" r="1.8"/><circle cx="1169" cy="2138" r="1.8"/></g>
<g stroke="#8a2a86" stroke-width="2.5" stroke-linecap="round">
<line x1="1240" y1="2131" x2="1244" y2="2109"/><line x1="1240" y1="2131" x2="1253" y2="2125"/><line x1="1240" y1="2131" x2="1228" y2="2120"/><line x1="1240" y1="2131" x2="1247" y2="2146"/><line x1="1240" y1="2131" x2="1230" y2="2145"/>
</g>
<g fill="#8a2a86"><circle cx="1244" cy="2109" r="2.5"/><circle cx="1253" cy="2125" r="2.5"/><circle cx="1228" cy="2120" r="2.5"/><circle cx="1230" cy="2145" r="2.5"/></g>
<g fill="#2aafb8">
<ellipse cx="1412" cy="2150" rx="14" ry="14"/><ellipse cx="1400" cy="2166" rx="9" ry="10"/><ellipse cx="1472" cy="2146" rx="12" ry="11"/><ellipse cx="1490" cy="2160" rx="7" ry="8"/><ellipse cx="1478" cy="2176" rx="6" ry="6"/><ellipse cx="1435" cy="2178" rx="8" ry="5"/><ellipse cx="1445" cy="2140" rx="6" ry="6"/>
<circle cx="1395" cy="2143" r="3"/><circle cx="1497" cy="2150" r="3"/><circle cx="1463" cy="2184" r="3"/><circle cx="1420" cy="2132" r="3"/>
</g>
<text x="1404" y="2175" font-family="'Liberation Sans',sans-serif" font-size="34" font-weight="bold" fill="#1f4e9a" textLength="84" lengthAdjust="spacingAndGlyphs">abc</text>
<g fill="#22307e"><rect x="1398" y="2212" width="12" height="3"/><rect x="1400" y="2219" width="16" height="3"/><rect x="1398" y="2226" width="10" height="3"/><rect x="1402" y="2233" width="14" height="3"/><rect x="1412" y="2212" width="8" height="3"/><rect x="1410" y="2226" width="12" height="3"/></g>
</svg>
</body></html>
